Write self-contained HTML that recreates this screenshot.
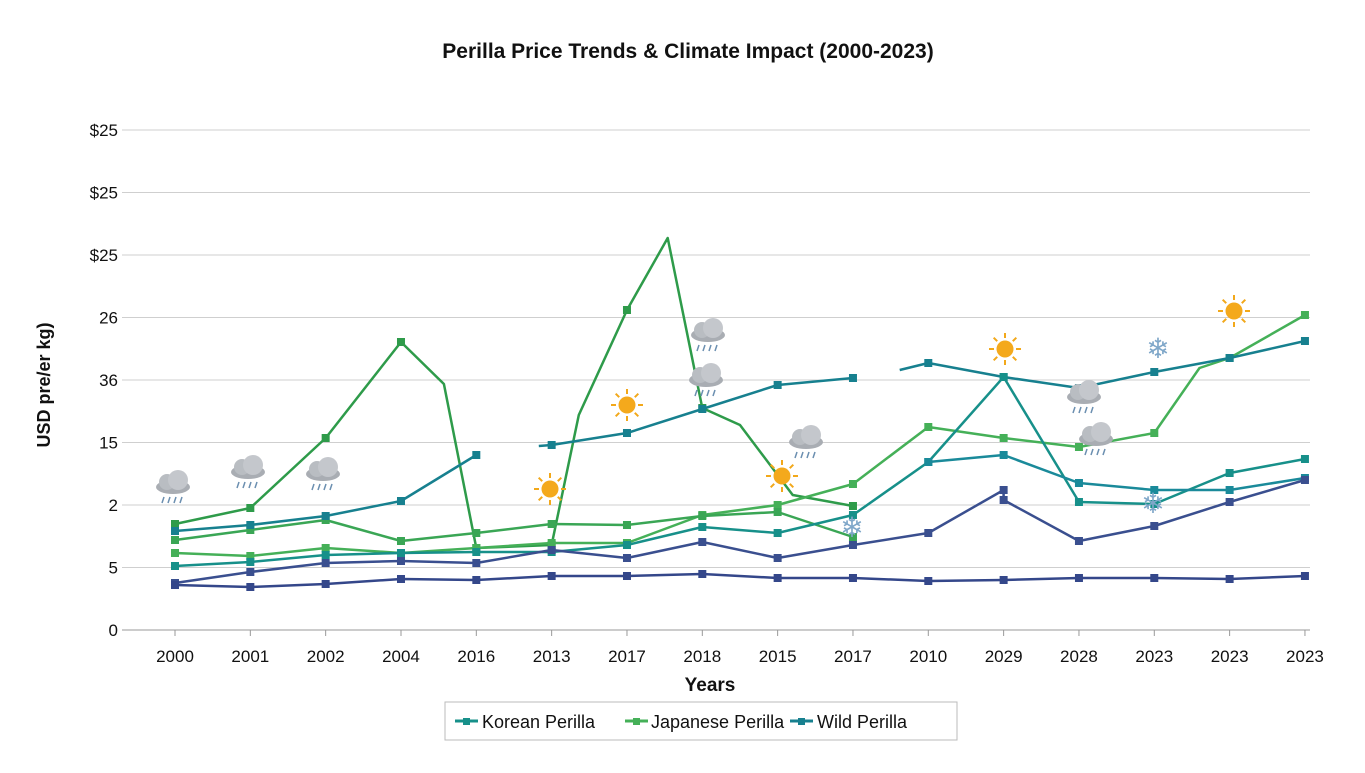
<!DOCTYPE html>
<html><head><meta charset="utf-8"><style>
body{margin:0;background:#fff;font-family:"Liberation Sans",sans-serif;}
svg text{font-family:"Liberation Sans",sans-serif;}
</style></head><body>
<svg id="chart" width="1365" height="768">
<text x="688" y="58" text-anchor="middle" font-size="21" font-weight="bold" fill="#111">Perilla Price Trends &amp; Climate Impact (2000-2023)</text>
<g id="grid"></g><g id="series"></g><g id="icons"></g>
<text transform="translate(50,385) rotate(-90)" text-anchor="middle" font-size="18" font-weight="bold" fill="#111">USD pre/er kg)</text>
<text x="710" y="691" text-anchor="middle" font-size="19" font-weight="bold" fill="#111">Years</text>
<g>
<rect x="445" y="702" width="512" height="38" fill="#fff" stroke="#bbb"/>
<g><line x1="455" y1="721" x2="478" y2="721" stroke="#17908a" stroke-width="3"/><rect x="463" y="718" width="7" height="7" fill="#17908a"/><text x="482" y="728" font-size="18" fill="#111">Korean Perilla</text></g>
<g><line x1="625" y1="721" x2="648" y2="721" stroke="#45b058" stroke-width="3"/><rect x="633" y="718" width="7" height="7" fill="#45b058"/><text x="651" y="728" font-size="18" fill="#111">Japanese Perilla</text></g>
<g><line x1="790" y1="721" x2="813" y2="721" stroke="#17808f" stroke-width="3"/><rect x="798" y="718" width="7" height="7" fill="#17808f"/><text x="817" y="728" font-size="18" fill="#111">Wild Perilla</text></g>
</g>
</svg>
<script>
const categories=["2000","2001","2002","2004","2016","2013","2017","2018","2015","2017","2010","2029","2028","2023","2023","2023"];
const tickValues=[0,12.5,25,37.5,50,62.5,75,87.5,100];
const tickLabels=["0","5","2","15","36","26","$25","$25","$25"];
const s1X=[0,1,2,3,3.57,4,5,5.36,6,6.54,7,7.5,8.2,9];
const s1Y=[21.2,24.4,38.4,57.6,49.2,16.4,17,43,64,78.4,44.4,41,27,24.8];
const s2X=[0,1,2,3,4,5,6,7,8,9,10,11,12,13,13.6,14,15];
const s2Y=[15.4,14.8,16.4,15.4,16.4,17.4,17.4,23,25,29.2,40.6,38.4,36.6,39.4,52.4,54.4,63];
const s3X=[0,1,2,3,4,5,6,7,8,9];
const s3Y=[18,20,22,17.8,19.4,21.2,21,22.8,23.6,18.6];
const s4X=[0,1,2,3,4,null,4.83,5,6,7,8,9,null,9.62,10,11,12,13,14,15];
const s4Y=[19.8,21,22.8,25.8,35,null,36.8,37,39.4,44.2,49,50.4,null,52,53.4,50.6,48.4,51.6,54.4,57.8];
const s5X=[0,1,2,3,4,5,6,7,8,9,10,11,12,13,14,15];
const s5Y=[12.8,13.6,15,15.4,15.6,15.6,17,20.6,19.4,23,33.6,50.6,25.6,25.2,31.4,34.2];
const s6X=[10,11,12,13,14,15];
const s6Y=[33.6,35,29.4,28,28,30.4];
const s7X=[0,1,2,3,4,5,6,7,8,9,10,11,11,12,13,14,15];
const s7Y=[9.4,11.6,13.4,13.8,13.4,16,14.4,17.6,14.4,17,19.4,28,26,17.8,20.8,25.6,30];
const s8X=[0,1,2,3,4,5,6,7,8,9,10,11,12,13,14,15];
const s8Y=[9,8.6,9.2,10.2,10,10.8,10.8,11.2,10.4,10.4,9.8,10,10.4,10.4,10.2,10.8];
const seriesList=[
 {n:"series-japanese-spike",x:s1X,y:s1Y,c:"#2e9b4a"},
 {n:"series-japanese",x:s2X,y:s2Y,c:"#45b058"},
 {n:"series-japanese-2",x:s3X,y:s3Y,c:"#3aa655"},
 {n:"series-wild",x:s4X,y:s4Y,c:"#17808f"},
 {n:"series-korean",x:s5X,y:s5Y,c:"#17908a"},
 {n:"series-korean-2",x:s6X,y:s6Y,c:"#1a8a9a"},
 {n:"series-navy",x:s7X,y:s7Y,c:"#3a4f8f"},
 {n:"series-navy-low",x:s8X,y:s8Y,c:"#34478a"}];
const NS="http://www.w3.org/2000/svg";
function xs(i){return 175+i*75.33;}
function ys(v){return 630-v*5;}
const grid=document.getElementById('grid');
tickValues.forEach((v,k)=>{
 const l=document.createElementNS(NS,'line');
 l.setAttribute('x1',122);l.setAttribute('x2',1310);l.setAttribute('y1',ys(v));l.setAttribute('y2',ys(v));
 l.setAttribute('stroke',k==0?'#999':'#cfcfcf');l.setAttribute('stroke-width',1);
 
 
 grid.appendChild(l);
 const t=document.createElementNS(NS,'text');
 t.setAttribute('x',118);t.setAttribute('y',ys(v)+6);t.setAttribute('text-anchor','end');
 t.setAttribute('font-size',17);t.setAttribute('fill','#111');t.textContent=tickLabels[k];
 
 
 grid.appendChild(t);
});
categories.forEach((c,i)=>{
 const t=document.createElementNS(NS,'text');
 t.setAttribute('x',xs(i));t.setAttribute('y',662);t.setAttribute('text-anchor','middle');
 t.setAttribute('font-size',17);t.setAttribute('fill','#111');t.textContent=c;
 
 
 grid.appendChild(t);
 const tk=document.createElementNS(NS,'line');
 tk.setAttribute('x1',xs(i));tk.setAttribute('x2',xs(i));tk.setAttribute('y1',630);tk.setAttribute('y2',636);tk.setAttribute('stroke','#999');
 
 
 grid.appendChild(tk);
});
const sg=document.getElementById('series');
seriesList.forEach(s=>{
 const g=document.createElementNS(NS,'g');
 
 
 let d='',pen=false;
 s.x.forEach((xv,k)=>{
  if(xv===null||s.y[k]===null){pen=false;return;}
  d+=(pen?'L':'M')+xs(xv).toFixed(1)+' '+ys(s.y[k]).toFixed(1)+' ';pen=true;
 });
 const p=document.createElementNS(NS,'path');
 p.setAttribute('d',d);p.setAttribute('fill','none');p.setAttribute('stroke',s.c);p.setAttribute('stroke-width',2.5);p.setAttribute('stroke-linejoin','round');
 
 
 g.appendChild(p);
 s.x.forEach((xv,k)=>{
  if(xv===null||s.y[k]===null||xv%1!==0)return;
  const r=document.createElementNS(NS,'rect');
  r.setAttribute('x',xs(xv)-4);r.setAttribute('y',ys(s.y[k])-4);r.setAttribute('width',8);r.setAttribute('height',8);r.setAttribute('fill',s.c);
  
  
  g.appendChild(r);
 });
 sg.appendChild(g);
});
const icons=document.getElementById('icons');
const rain=[[173,485],[248,470],[323,472],[708,333],[706,378],[806,440],[1084,395],[1096,437]];
const suns=[[550,489],[627,405],[782,476],[1005,349],[1234,311]];
const snows=[[1158,348],[852,527],[1153,503]];
rain.forEach(p=>{
 const g=document.createElementNS(NS,'g');
 
 
 g.setAttribute('transform','translate('+p[0]+','+p[1]+')');
 g.innerHTML='<ellipse cx="0" cy="2" rx="17" ry="7" fill="#a9adb3"/><circle cx="-6" cy="-3" r="8" fill="#b9bdc2"/><circle cx="5" cy="-5" r="10" fill="#c4c7cc"/><g stroke="#6b8fb0" stroke-width="1.5"><line x1="-9" y1="12" x2="-11" y2="18"/><line x1="-3" y1="12" x2="-5" y2="18"/><line x1="3" y1="12" x2="1" y2="18"/><line x1="9" y1="12" x2="7" y2="18"/></g>';
 icons.appendChild(g);
});
suns.forEach(p=>{
 const g=document.createElementNS(NS,'g');
 
 
 let r='';for(let a=0;a<8;a++){const an=a*Math.PI/4;r+='<line x1="'+(11*Math.cos(an))+'" y1="'+(11*Math.sin(an))+'" x2="'+(16*Math.cos(an))+'" y2="'+(16*Math.sin(an))+'" stroke="#f2a81a" stroke-width="2"/>';}
 g.setAttribute('transform','translate('+p[0]+','+p[1]+')');
 g.innerHTML=r+'<circle r="8.5" fill="#f4a91c"/>';
 icons.appendChild(g);
});
snows.forEach(p=>{
 const t=document.createElementNS(NS,'text');
 t.setAttribute('x',p[0]);t.setAttribute('y',p[1]+10);t.setAttribute('text-anchor','middle');t.setAttribute('font-size',28);t.setAttribute('fill','#7fa7c9');
 t.setAttribute('font-family','DejaVu Sans, sans-serif');
 t.textContent='\u2744';
 
 
 icons.appendChild(t);
});
</script>
</body></html>
